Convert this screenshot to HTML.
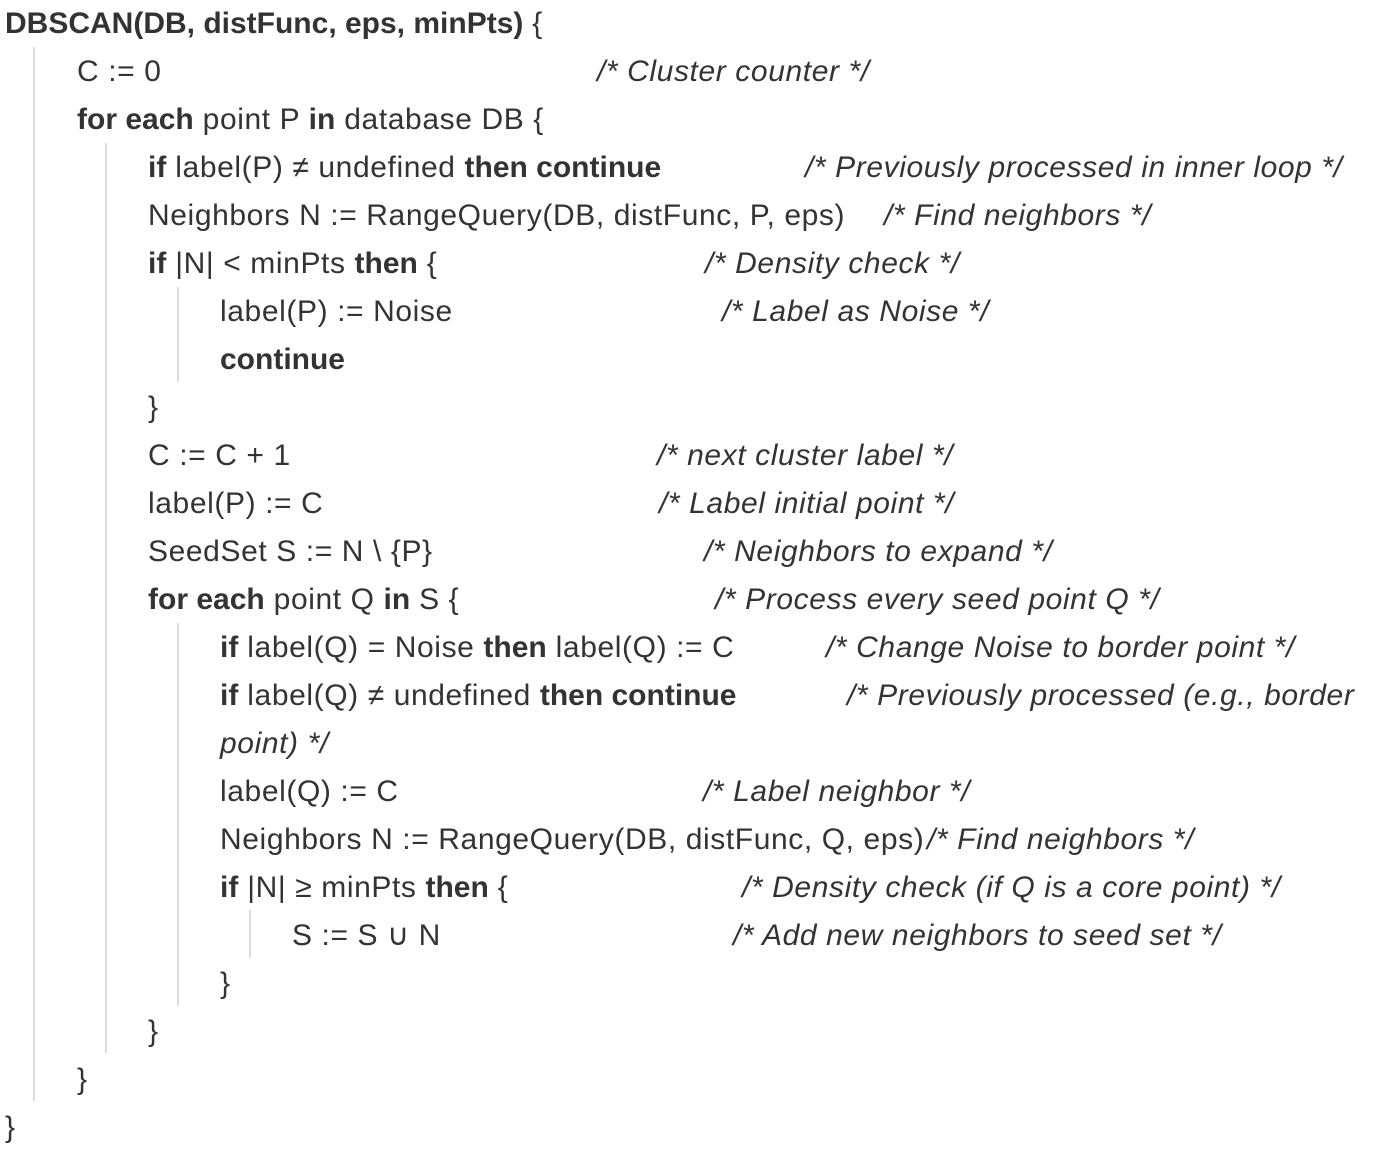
<!DOCTYPE html>
<html><head><meta charset="utf-8"><style>
html,body{margin:0;padding:0;background:#fff;}
body{width:1391px;height:1152px;position:relative;overflow:hidden;font-family:"Liberation Sans",sans-serif;font-size:30px;letter-spacing:0.6px;color:#333;}
.l{position:absolute;height:48px;line-height:48px;white-space:nowrap;}
.c{position:absolute;height:48px;line-height:48px;white-space:nowrap;font-style:italic;}
b{font-weight:bold;letter-spacing:0px;}
.bar{position:absolute;width:2px;background:#ddd;}
</style></head><body>
<div class="bar" style="left:33px;top:47px;height:1054px"></div>
<div class="bar" style="left:105px;top:143px;height:910px"></div>
<div class="bar" style="left:177px;top:287px;height:95px"></div>
<div class="bar" style="left:177px;top:623px;height:383px"></div>
<div class="bar" style="left:249px;top:910px;height:48px"></div>

<div class="l" style="left:5px;top:0px"><b>DBSCAN(DB, distFunc, eps, minPts)</b> {</div>
<div class="l" style="left:77px;top:48px">C := 0</div><div class="c" style="left:597px;top:48px">/* Cluster counter */</div>
<div class="l" style="left:77px;top:96px"><b>for each</b> point P <b>in</b> database DB {</div>
<div class="l" style="left:148px;top:144px"><b>if</b> label(P) ≠ undefined <b>then continue</b></div><div class="c" style="left:805px;top:144px">/* Previously processed in inner loop */</div>
<div class="l" style="left:148px;top:192px">Neighbors N := RangeQuery(DB, distFunc, P, eps)</div><div class="c" style="left:884px;top:192px">/* Find neighbors */</div>
<div class="l" style="left:148px;top:240px"><b>if</b> |N| &lt; minPts <b>then</b> {</div><div class="c" style="left:705px;top:240px">/* Density check */</div>
<div class="l" style="left:220px;top:288px">label(P) := Noise</div><div class="c" style="left:722px;top:288px">/* Label as Noise */</div>
<div class="l" style="left:220px;top:336px"><b>continue</b></div>
<div class="l" style="left:148px;top:384px">}</div>
<div class="l" style="left:148px;top:432px">C := C + 1</div><div class="c" style="left:657px;top:432px">/* next cluster label */</div>
<div class="l" style="left:148px;top:480px">label(P) := C</div><div class="c" style="left:659px;top:480px">/* Label initial point */</div>
<div class="l" style="left:148px;top:528px">SeedSet S := N \ {P}</div><div class="c" style="left:704px;top:528px">/* Neighbors to expand */</div>
<div class="l" style="left:148px;top:576px"><b>for each</b> point Q <b>in</b> S {</div><div class="c" style="left:715px;top:576px">/* Process every seed point Q */</div>
<div class="l" style="left:220px;top:624px"><b>if</b> label(Q) = Noise <b>then</b> label(Q) := C</div><div class="c" style="left:826px;top:624px">/* Change Noise to border point */</div>
<div class="l" style="left:220px;top:672px"><b>if</b> label(Q) ≠ undefined <b>then continue</b></div><div class="c" style="left:847px;top:672px">/* Previously processed (e.g., border</div>
<div class="c" style="left:220px;top:720px">point) */</div>
<div class="l" style="left:220px;top:768px">label(Q) := C</div><div class="c" style="left:703px;top:768px">/* Label neighbor */</div>
<div class="l" style="left:220px;top:816px">Neighbors N := RangeQuery(DB, distFunc, Q, eps)</div><div class="c" style="left:927px;top:816px">/* Find neighbors */</div>
<div class="l" style="left:220px;top:864px"><b>if</b> |N| ≥ minPts <b>then</b> {</div><div class="c" style="left:742px;top:864px">/* Density check (if Q is a core point) */</div>
<div class="l" style="left:292px;top:912px">S := S ∪ N</div><div class="c" style="left:733px;top:912px">/* Add new neighbors to seed set */</div>
<div class="l" style="left:220px;top:960px">}</div>
<div class="l" style="left:148px;top:1008px">}</div>
<div class="l" style="left:77px;top:1056px">}</div>
<div class="l" style="left:5px;top:1104px">}</div>
</body></html>
